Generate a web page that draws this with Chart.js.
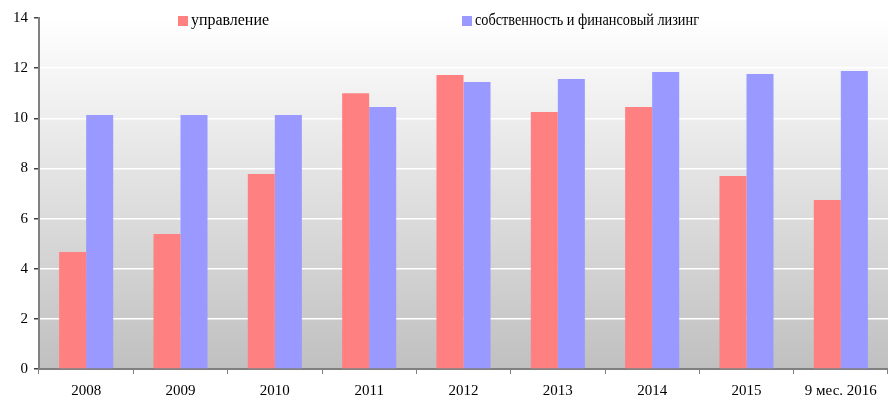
<!DOCTYPE html>
<html>
<head>
<meta charset="utf-8">
<script src="https://cdn.jsdelivr.net/npm/chart.js@4"></script>
<style>
  html, body { margin: 0; padding: 0; background: #fff; }
  #wrap { width: 888px; height: 401px; }
</style>
</head>
<body>
<div id="wrap"><canvas id="chart"></canvas></div>
<script>
const years = ['2008', '2009', '2010', '2011', '2012', '2013', '2014', '2015', '9 мес. 2016'];
const upravlenie = [4.67, 5.38, 7.78, 11.0, 11.73, 10.25, 10.45, 7.7, 6.74];
const sobstvennost = [10.13, 10.13, 10.13, 10.45, 11.45, 11.57, 11.85, 11.77, 11.89];
const yTicks = [0, 2, 4, 6, 8, 10, 12, 14];

const FONT = "'Liberation Serif', 'Times New Roman', serif";

// gradient behind the bars
const bgPlugin = {
  id: 'bg',
  beforeDraw(chart) {
    const { ctx, chartArea: a } = chart;
    const g = ctx.createLinearGradient(0, a.top, 0, a.bottom);
    g.addColorStop(0, '#ffffff');
    g.addColorStop(1, '#c0c0c0');
    ctx.save();
    ctx.fillStyle = g;
    ctx.fillRect(a.left, a.top, a.right - a.left, a.bottom - a.top);
    ctx.restore();
  }
};

// legend drawn inside the plot, like the original
const legendPlugin = {
  id: 'innerLegend',
  afterDraw(chart) {
    const ctx = chart.ctx;
    const xs = [178, 462];
    const maxW = [78, 224];
    ctx.save();
    ctx.font = '16px ' + FONT;
    ctx.textBaseline = 'middle';
    chart.data.datasets.forEach((ds, i) => {
      ctx.fillStyle = ds.backgroundColor;
      ctx.fillRect(xs[i], 16, 10, 10);
      ctx.fillStyle = '#000';
      ctx.fillText(ds.label, xs[i] + 13, 21, maxW[i]);
    });
    ctx.restore();
  }
};

new Chart(document.getElementById('chart'), {
  type: 'bar',
  data: {
    labels: years,
    datasets: [{
      label: 'управление',
      data: upravlenie,
      backgroundColor: '#ff8080'
    }, {
      label: 'собственность и финансовый лизинг',
      data: sobstvennost,
      backgroundColor: '#9999ff'
    }]
  },
  options: {
    responsive: true,
    maintainAspectRatio: false,
    animation: false,
    layout: { padding: { top: 18, right: 0, left: 0, bottom: 0 } },
    categoryPercentage: 0.573,
    barPercentage: 1,
    plugins: {
      legend: { display: false },
      tooltip: { enabled: false }
    },
    scales: {
      x: {
        afterFit(s) { s.height = 32; },
        grid: {
          offset: true,
          drawOnChartArea: false,
          tickLength: 5,
          tickColor: '#808080'
        },
        border: { color: '#808080', width: 2 },
        ticks: {
          color: '#000',
          font: { family: FONT, size: 15 },
          padding: 8,
          maxRotation: 0,
          autoSkip: false
        }
      },
      y: {
        min: 0,
        max: 14,
        afterFit(s) { s.width = 39; },
        afterBuildTicks(s) { s.ticks = yTicks.map(v => ({ value: v })); },
        grid: {
          color: '#ffffff',
          lineWidth: 1.5,
          tickLength: 5,
          tickColor: '#404040'
        },
        border: { color: '#808080', width: 2 },
        ticks: {
          color: '#000',
          font: { family: FONT, size: 15 },
          padding: 6
        }
      }
    }
  },
  plugins: [bgPlugin, legendPlugin]
});
</script>
</body>
</html>
